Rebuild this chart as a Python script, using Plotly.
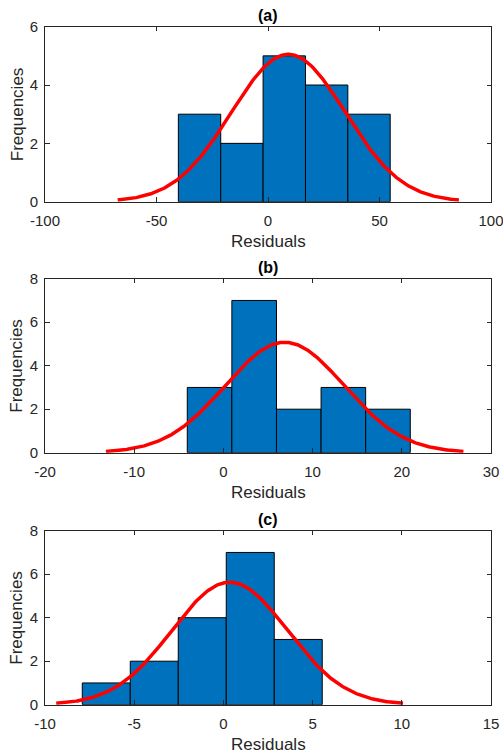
import numpy as np
import plotly.graph_objects as go

# Residual histograms (bin edges and counts) for the three models
panel_titles = ["(a)", "(b)", "(c)"]

edges_a = [-40.2, -21.2, -2.2, 16.8, 35.8, 54.8]
counts_a = [3, 2, 5, 4, 3]
edges_b = [-4.05, 0.95, 5.95, 10.95, 15.95, 20.95]
counts_b = [3, 7, 2, 3, 2]
edges_c = [-7.91, -5.22, -2.53, 0.16, 2.85, 5.54]
counts_c = [1, 2, 4, 7, 3]

# Fitted normal distribution for each panel: (mean, standard deviation)
fit_a = (9.1, 25.5)
fit_b = (6.87, 6.68)
fit_c = (0.35, 3.24)

# Axis ranges and ticks
xrange_a = [-100, 100]
xticks_a = [-100, -50, 0, 50, 100]
xrange_b = [-20, 30]
xticks_b = [-20, -10, 0, 10, 20, 30]
xrange_c = [-10, 15]
xticks_c = [-10, -5, 0, 5, 10, 15]
yrange_a = [0, 6]
yticks_a = [0, 2, 4, 6]
yrange_bc = [0, 8]
yticks_bc = [0, 2, 4, 6, 8]

x_title = "Residuals"
y_title = "Frequencies"

panels = [
    (edges_a, counts_a, fit_a, xrange_a, xticks_a, yrange_a, yticks_a),
    (edges_b, counts_b, fit_b, xrange_b, xticks_b, yrange_bc, yticks_bc),
    (edges_c, counts_c, fit_c, xrange_c, xticks_c, yrange_bc, yticks_bc),
]

W, H = 503, 756
left_px, right_px = 45, 491
x_dom = [left_px / W, right_px / W]
# plot-area top/bottom in pixels for each panel
rows_px = [(26.7, 201.7), (278.7, 452.7), (530.7, 704.7)]

FONT = "Liberation Sans, Arial, Helvetica, sans-serif"
INK = "#262626"
BAR = "#0072BD"
TICK_SIZE = 15
LABEL_SIZE = 17

fig = go.Figure()
annotations = []
axes = {}

for i, (edges, counts, (mu, sd), xr, xt, yr, yt) in enumerate(panels):
    k = "" if i == 0 else str(i + 1)
    edges = np.asarray(edges, dtype=float)
    counts = np.asarray(counts, dtype=float)
    centers = (edges[:-1] + edges[1:]) / 2
    widths = np.diff(edges)
    bw = widths.mean()

    fig.add_trace(go.Bar(
        x=centers, y=counts, width=widths,
        marker=dict(color=BAR, line=dict(color="black", width=1)),
        xaxis="x" + k, yaxis="y" + k, hoverinfo="x+y",
    ))

    # normal density scaled to the histogram area, over mean +/- 3 sd
    xs = np.linspace(mu - 3 * sd, mu + 3 * sd, 300)
    ys = counts.sum() * bw * np.exp(-0.5 * ((xs - mu) / sd) ** 2) / (sd * np.sqrt(2 * np.pi))
    fig.add_trace(go.Scatter(
        x=xs, y=ys, mode="lines",
        line=dict(color="#FF0000", width=3.5),
        xaxis="x" + k, yaxis="y" + k,
    ))

    top, bot = rows_px[i]
    y_dom = [(H - bot) / H, (H - top) / H]
    common = dict(
        showline=True, linecolor=INK, linewidth=1, mirror="allticks",
        ticks="inside", ticklen=4.5, tickwidth=1, tickcolor=INK,
        showgrid=False, zeroline=False, fixedrange=True, automargin=False,
        ticklabeloverflow="allow",
        tickfont=dict(family=FONT, size=TICK_SIZE, color=INK),
    )
    axes["xaxis" + k] = dict(
        common, domain=x_dom, range=xr, anchor="y" + k,
        tickvals=xt, ticktext=[str(v) for v in xt], ticklabelstandoff=5,
    )
    axes["yaxis" + k] = dict(
        common, domain=y_dom, range=yr, anchor="x" + k,
        tickvals=yt, ticktext=[str(v) for v in yt], ticklabelstandoff=3,
    )

    xc = (x_dom[0] + x_dom[1]) / 2
    # panel title
    annotations.append(dict(
        text="<b>" + panel_titles[i] + "</b>",
        x=xc, y=y_dom[1], xref="paper", yref="paper",
        xanchor="center", yanchor="middle", yshift=11.5, showarrow=False,
        font=dict(family=FONT, size=16, color="black"),
    ))
    # x-axis title
    annotations.append(dict(
        text=x_title, x=xc, y=y_dom[0], xref="paper", yref="paper",
        xanchor="center", yanchor="middle", yshift=-39.5, showarrow=False,
        font=dict(family=FONT, size=LABEL_SIZE, color=INK),
    ))
    # y-axis title
    annotations.append(dict(
        text=y_title, textangle=-90,
        x=17 / W, y=(y_dom[0] + y_dom[1]) / 2, xref="paper", yref="paper",
        xanchor="center", yanchor="middle", showarrow=False,
        font=dict(family=FONT, size=LABEL_SIZE, color=INK),
    ))

fig.update_layout(
    width=W, height=H,
    margin=dict(l=0, r=0, t=0, b=0, autoexpand=False),
    paper_bgcolor="white", plot_bgcolor="white",
    showlegend=False,
    font=dict(family=FONT, color=INK),
    annotations=annotations,
    **axes,
)
fig.write_html("out.html")
